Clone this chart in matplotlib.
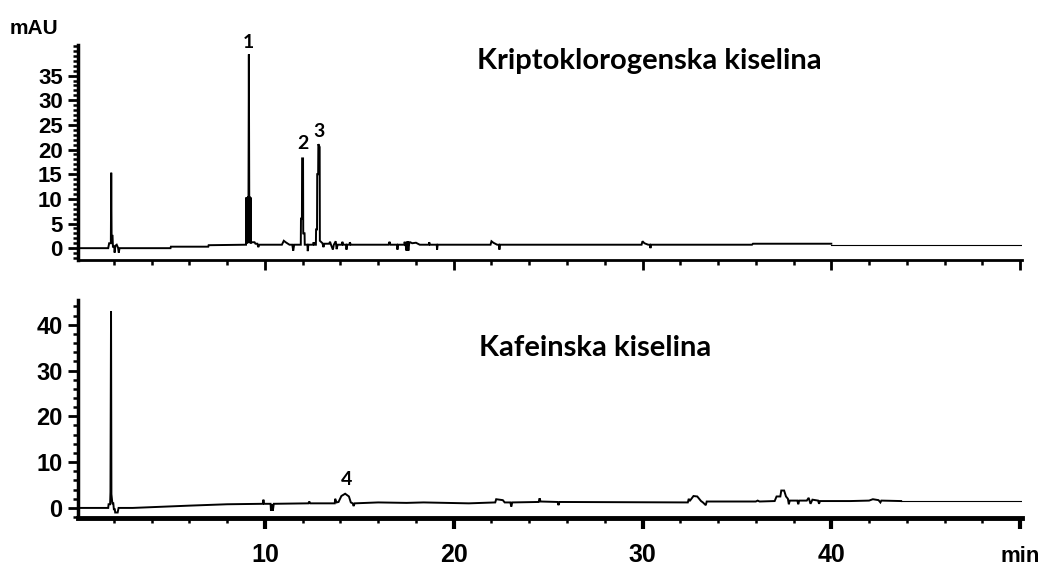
import matplotlib
matplotlib.use("Agg")
import matplotlib.pyplot as plt
from matplotlib.ticker import MultipleLocator, FixedLocator

# --- data (time in min, signal in mAU) ---
t_top = [0.1, 1.70, 1.75, 1.84, 1.86, 1.88, 1.93, 1.95, 2.02, 2.04, 2.08, 2.15, 2.22, 2.26, 2.30,
         5.00, 5.02, 7.00, 7.02, 8.95,
         9.00, 9.02, 9.04, 9.06, 9.08, 9.10, 9.13, 9.15, 9.17, 9.20, 9.22, 9.24, 9.26, 9.30, 9.45,
         9.50, 9.60, 9.65, 9.70, 10.90, 11.00, 11.10, 11.30, 11.45, 11.50, 11.55,
         11.90, 11.91, 11.96, 11.97, 12.02, 12.03, 12.10, 12.11, 12.25, 12.27, 12.30,
         12.55, 12.58, 12.62, 12.70, 12.71, 12.76, 12.77, 12.82, 12.83, 12.90, 12.91, 13.05,
         13.10, 13.15, 13.40, 13.45, 13.50, 13.60, 13.65, 13.75, 13.80, 13.85,
         14.08, 14.10, 14.15, 14.30, 14.32, 14.35, 14.48, 14.50, 14.55,
         16.55, 16.60, 16.65, 17.00, 17.02, 17.05,
         17.38, 17.40, 17.45, 17.50, 17.55, 17.60, 17.65, 17.70, 17.80, 18.00, 18.20,
         18.68, 18.70, 18.75, 19.10, 19.12, 19.15,
         21.95, 22.00, 22.10, 22.30, 22.40, 22.42, 22.45,
         29.95, 30.00, 30.10, 30.30, 30.40, 30.42, 30.45,
         35.80, 35.85, 40.00]
y_top = [0.0, 0.0, 1.0, 1.0, 15.3, 2.5, 2.5, 0.3, 0.3, -0.9, 0.5, 0.7, 0.1, -0.9, 0.0,
         0.0, 0.3, 0.3, 0.6, 0.7,
         0.7, 10.3, 1.0, 10.3, 1.0, 10.3, 10.3, 39.3, 10.3, 10.3, 1.0, 10.3, 1.0, 1.2, 1.2,
         0.9, 0.9, 0.2, 0.7, 0.7, 1.5, 1.2, 0.7, 0.7, -0.5, 0.7,
         0.7, 6.0, 6.0, 18.2, 18.2, 3.0, 3.0, 0.7, 0.7, -0.6, 0.7,
         0.7, 1.2, 0.7, 0.7, 3.8, 3.8, 15.0, 15.0, 21.1, 20.5, 1.5, 1.0,
         0.2, 0.9, 0.9, 1.3, 0.7, -0.3, 0.7, 1.4, -0.2, 0.7,
         0.7, 1.3, 0.7, 0.7, -0.3, 0.7, 0.7, 1.2, 0.7,
         0.7, 1.3, 0.7, 0.7, -0.3, 0.7,
         0.7, 1.3, 0.7, -0.5, 1.4, -0.5, 1.2, 1.2, 1.0, 1.1, 0.7,
         0.7, 1.2, 0.7, 0.7, -0.3, 0.7,
         0.7, 1.4, 1.1, 0.7, 0.7, -0.3, 0.7,
         0.7, 1.4, 1.0, 0.7, 0.7, 0.0, 0.7,
         0.7, 0.9, 0.9]
t_top_tail = [40.0, 50.1]
y_top_tail = [0.7, 0.7]

t_bot = [0.1, 1.70, 1.72, 1.80, 1.82, 1.85, 1.87, 1.92, 1.97, 2.00, 2.05, 2.07, 2.20, 2.25,
         3.0, 6.0, 8.0, 9.90, 9.92, 9.95, 10.30, 10.32, 10.37, 10.42, 10.47,
         12.30, 12.35, 12.40, 13.70, 13.72, 13.80, 13.90, 14.05, 14.25, 14.45, 14.55, 14.65,
         14.70, 14.75, 16.0, 17.5, 18.4, 20.8, 22.2, 22.25, 22.6, 22.7, 23.0, 23.05, 23.1,
         24.5, 24.55, 24.6, 25.5, 25.55, 25.6, 32.4, 32.45, 32.5, 32.7, 32.9, 33.1, 33.2,
         33.35, 33.4, 36.0, 36.1, 36.2, 37.0, 37.1, 37.3, 37.35, 37.5, 37.6, 37.7, 37.75,
         37.8, 38.2, 38.25, 38.3, 38.7, 38.8, 38.9, 39.0, 39.3, 39.35, 39.4, 41.0, 42.0,
         42.2, 42.5, 42.6, 42.65, 43.7]
y_bot = [0.0, 0.0, 0.8, 0.8, 3.5, 43.0, 3.0, 1.0, 1.0, -0.3, -0.3, -1.0, -1.0, 0.0,
         0.0, 0.5, 0.8, 0.9, 1.8, 0.9, 0.9, -0.6, 0.8, -0.6, 0.9,
         1.0, 1.4, 1.0, 1.0, 2.0, 1.2, 1.3, 2.6, 3.1, 2.5, 1.2, 1.0,
         0.4, 1.0, 1.2, 1.1, 1.2, 1.0, 1.2, 1.9, 1.7, 1.2, 1.2, 0.3, 1.2,
         1.3, 2.1, 1.4, 1.3, 0.6, 1.3, 1.2, 2.0, 1.5, 2.6, 2.5, 1.5, 1.2,
         0.6, 1.4, 1.4, 1.6, 1.4, 1.5, 2.5, 2.5, 3.8, 3.8, 2.5, 2.0, 0.8,
         1.6, 1.6, 0.8, 1.6, 1.6, 2.2, 0.9, 1.8, 1.6, 0.9, 1.5, 1.5, 1.6,
         1.9, 1.7, 1.2, 1.6, 1.5]
t_bot_tail = [43.7, 50.1]
y_bot_tail = [1.45, 1.45]

peak_ids = ['1', '2', '3']
peak_t = [9.15, 12.0, 12.85]
peak_y = [41.8, 21.3, 23.6]
peak4_t, peak4_y = 14.35, 6.2

x_major = [10, 20, 30, 40, 50]
x_labels = ['10', '20', '30', '40', '']
y_top_ticks = [0, 5, 10, 15, 20, 25, 30, 35]

W, H = 1043, 567
fig = plt.figure(figsize=(W / 100, H / 100), dpi=100)
ax1 = fig.add_axes([78 / W, 1 - 260 / H, 944 / W, 215 / H])
ax2 = fig.add_axes([78 / W, 1 - 518 / H, 944 / W, 218 / H])

tick_font = dict(family='Liberation Sans', weight='bold')
lbl_font = ['Lato', 'DejaVu Sans']

for ax in (ax1, ax2):
    for s in ('top', 'right'):
        ax.spines[s].set_visible(False)
    ax.spines['left'].set_linewidth(2.5)
    ax.set_xlim(0.1, 50.1)
    ax.xaxis.set_major_locator(FixedLocator(x_major))
    ax.xaxis.set_minor_locator(MultipleLocator(2))
    ax.tick_params(axis='both', which='major', direction='out', length=7, width=2, color='black')
    ax.tick_params(axis='both', which='minor', direction='out', length=3.5, width=1.8, color='black')

ax1.plot(t_top, y_top, color='black', lw=1.4, solid_joinstyle='miter')
ax1.plot(t_top_tail, y_top_tail, color='black', lw=0.8)
ax1.set_ylim(-2.4, 41.2)
ax1.yaxis.set_major_locator(FixedLocator(y_top_ticks))
ax1.yaxis.set_minor_locator(MultipleLocator(1))
ax1.set_xticklabels([])
ax1.spines['bottom'].set_linewidth(2)
for lab in ax1.get_yticklabels():
    lab.set_fontproperties(tick_font)
    lab.set_fontsize(16)
ax1.tick_params(axis='y', pad=4)
for pid, pt, py in zip(peak_ids, peak_t, peak_y):
    ax1.text(pt, py, pid, ha='center', va='center', fontsize=14, fontweight='bold',
             family=lbl_font, clip_on=False)

ax2.plot(t_bot, y_bot, color='black', lw=1.4, solid_joinstyle='miter')
ax2.plot(t_bot_tail, y_bot_tail, color='black', lw=0.8)
ax2.set_ylim(-2.2, 45.4)
ax2.yaxis.set_major_locator(MultipleLocator(10))
ax2.yaxis.set_minor_locator(MultipleLocator(2))
ax2.spines['bottom'].set_linewidth(3.5)
ax2.set_xticklabels(x_labels)
ax2.tick_params(axis='x', which='major', width=3, length=8, pad=10)
for lab in ax2.get_xticklabels() + ax2.get_yticklabels():
    lab.set_fontproperties(tick_font)
ax2.tick_params(axis='x', labelsize=18)
ax2.tick_params(axis='y', labelsize=17, pad=4)
ax2.text(peak4_t, peak4_y, '4', ha='center', va='center', fontsize=14, fontweight='bold',
         family=lbl_font)

fig.text(10 / W, 1 - 28 / H, 'mAU', ha='left', va='center', fontsize=15, **tick_font)
fig.text(1000 / W, 1 - 556 / H, 'min', ha='left', va='center', fontsize=16, **tick_font)
fig.text(477 / W, 1 - 61 / H, 'Kriptoklorogenska kiselina', ha='left', va='center',
         fontsize=21, fontweight='bold', family=lbl_font)
fig.text(479 / W, 1 - 348 / H, 'Kafeinska kiselina', ha='left', va='center',
         fontsize=21, fontweight='bold', family=lbl_font)

fig.savefig('out.png', dpi=100)
